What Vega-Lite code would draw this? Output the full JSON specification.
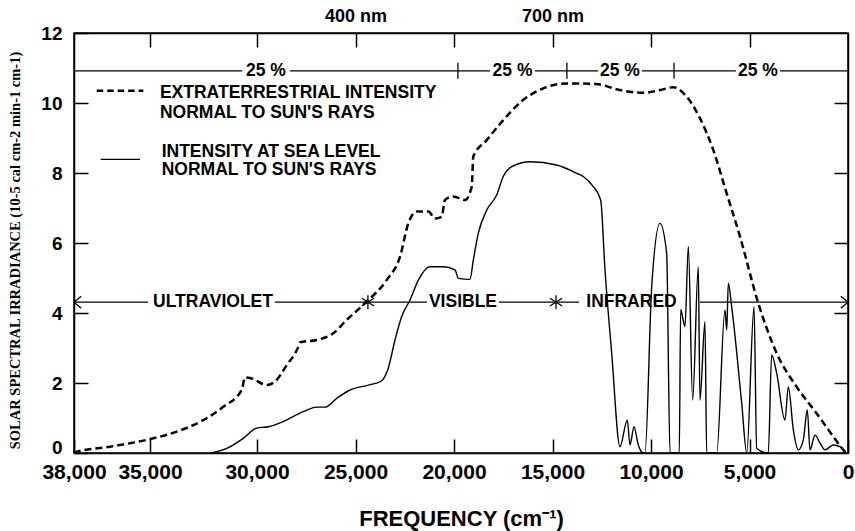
{
  "$schema": "https://vega.github.io/schema/vega-lite/v6.json",
  "width": 774,
  "height": 420,
  "autosize": "none",
  "padding": {"left": 74, "top": 33, "right": 7, "bottom": 78},
  "background": "white",
  "config": {
    "view": {"stroke": "black", "strokeWidth": 1.5},
    "axis": {
      "grid": false,
      "domainColor": "black",
      "domainWidth": 1.5,
      "tickColor": "black",
      "tickWidth": 1.5,
      "labelColor": "black",
      "titleColor": "black",
      "labelFont": "Liberation Sans",
      "titleFont": "Liberation Sans",
      "labelFontWeight": "bold",
      "titleFontWeight": "bold",
      "labelFlush": false,
      "labelOverlap": false
    },
    "text": {"font": "Liberation Sans", "fontWeight": "bold", "fontSize": 17.5, "color": "black"}
  },
  "resolve": {"axis": {"x": "independent", "y": "independent"}},
  "datasets": {
    "ext": [
      {"f": 38000, "v": 0.0}, {"f": 37960, "v": 0.02}, {"f": 36580, "v": 0.18}, {"f": 35040, "v": 0.39},
      {"f": 33750, "v": 0.61}, {"f": 32510, "v": 0.94}, {"f": 31575, "v": 1.32}, {"f": 30715, "v": 1.8},
      {"f": 30560, "v": 2.16}, {"f": 30250, "v": 2.13}, {"f": 29510, "v": 1.94}, {"f": 29090, "v": 2.04},
      {"f": 28490, "v": 2.51}, {"f": 27900, "v": 3.04}, {"f": 27820, "v": 3.16}, {"f": 26970, "v": 3.23},
      {"f": 26130, "v": 3.42}, {"f": 25450, "v": 3.8}, {"f": 24520, "v": 4.28}, {"f": 23420, "v": 4.94},
      {"f": 22740, "v": 5.61}, {"f": 22320, "v": 6.56}, {"f": 21890, "v": 6.9}, {"f": 21300, "v": 6.9},
      {"f": 20965, "v": 6.7}, {"f": 20625, "v": 6.75}, {"f": 20460, "v": 7.23}, {"f": 20040, "v": 7.33},
      {"f": 19440, "v": 7.23}, {"f": 19100, "v": 7.61}, {"f": 19020, "v": 8.47}, {"f": 18340, "v": 8.94},
      {"f": 17500, "v": 9.51}, {"f": 16480, "v": 10.09}, {"f": 15470, "v": 10.42}, {"f": 14280, "v": 10.56},
      {"f": 12760, "v": 10.54}, {"f": 11590, "v": 10.37}, {"f": 10390, "v": 10.29}, {"f": 9540, "v": 10.37},
      {"f": 8870, "v": 10.45}, {"f": 8190, "v": 10.18}, {"f": 7510, "v": 9.56}, {"f": 6840, "v": 8.66},
      {"f": 6160, "v": 7.42}, {"f": 5480, "v": 6.18}, {"f": 4570, "v": 4.31}, {"f": 3620, "v": 2.85},
      {"f": 2605, "v": 1.89}, {"f": 1590, "v": 1.13}, {"f": 748, "v": 0.47}, {"f": 240, "v": 0.09},
      {"f": 100, "v": 0.0}
    ],
    "sea": [
      {"f": 32120, "v": 0}, {"f": 31415, "v": 0.13}, {"f": 30640, "v": 0.42}, {"f": 30015, "v": 0.71},
      {"f": 29425, "v": 0.75}, {"f": 28665, "v": 0.9}, {"f": 27650, "v": 1.18}, {"f": 26970, "v": 1.31},
      {"f": 26550, "v": 1.31}, {"f": 25955, "v": 1.56}, {"f": 25280, "v": 1.8}, {"f": 24350, "v": 1.94},
      {"f": 23705, "v": 2.05}, {"f": 23350, "v": 2.4}, {"f": 22995, "v": 3.23}, {"f": 22655, "v": 3.9},
      {"f": 22235, "v": 4.37}, {"f": 21810, "v": 4.94}, {"f": 21220, "v": 5.32}, {"f": 20545, "v": 5.32},
      {"f": 19950, "v": 5.23}, {"f": 19780, "v": 4.99}, {"f": 19190, "v": 4.96}, {"f": 19020, "v": 5.51},
      {"f": 18765, "v": 6.28}, {"f": 18340, "v": 6.94}, {"f": 17835, "v": 7.37}, {"f": 17500, "v": 7.9},
      {"f": 17070, "v": 8.18}, {"f": 16140, "v": 8.32}, {"f": 14790, "v": 8.23}, {"f": 13770, "v": 7.99},
      {"f": 13440, "v": 7.9}, {"f": 12930, "v": 7.61}, {"f": 12555, "v": 7.23}, {"f": 12335, "v": 5.23},
      {"f": 11995, "v": 2.85}, {"f": 11575, "v": 0.18}, {"f": 11205, "v": 0.94}, {"f": 11065, "v": 0.23},
      {"f": 10865, "v": 0.75}, {"f": 10645, "v": 0.23}, {"f": 10390, "v": 0}, {"f": 10305, "v": 0},
      {"f": 9965, "v": 4.75}, {"f": 9545, "v": 6.56}, {"f": 9205, "v": 5.7}, {"f": 9035, "v": 0},
      {"f": 8565, "v": 0}, {"f": 8495, "v": 4.1}, {"f": 8275, "v": 3.61}, {"f": 8105, "v": 5.9},
      {"f": 7885, "v": 1.51}, {"f": 7600, "v": 5.32}, {"f": 7515, "v": 1.51}, {"f": 7260, "v": 3.75},
      {"f": 7175, "v": 0}, {"f": 6665, "v": 0}, {"f": 6245, "v": 4.09}, {"f": 6155, "v": 3.51},
      {"f": 6075, "v": 4.85}, {"f": 5905, "v": 4.18}, {"f": 5395, "v": 1.42}, {"f": 5140, "v": 0},
      {"f": 4770, "v": 4.18}, {"f": 4635, "v": 0.13}, {"f": 4045, "v": 0}, {"f": 3875, "v": 2.8},
      {"f": 3620, "v": 2.28}, {"f": 3200, "v": 0.94}, {"f": 3030, "v": 1.89}, {"f": 2775, "v": 0.66},
      {"f": 2525, "v": 0.09}, {"f": 2270, "v": 0.37}, {"f": 2065, "v": 1.23}, {"f": 1930, "v": 0.09},
      {"f": 1675, "v": 0.51}, {"f": 1420, "v": 0.28}, {"f": 1170, "v": 0.09}, {"f": 745, "v": 0.23},
      {"f": 405, "v": 0.18}, {"f": 150, "v": 0}
    ],
    "pctSegs": [
      {"f": 38000, "f2": 30700, "v": 10.92}, {"f": 28330, "f2": 18170, "v": 10.92},
      {"f": 15890, "f2": 12690, "v": 10.92}, {"f": 10460, "f2": 5690, "v": 10.92},
      {"f": 3450, "f2": 0, "v": 10.92}
    ],
    "pctTicks": [
      {"f": 19800, "v": 10.69, "v2": 11.15}, {"f": 14270, "v": 10.69, "v2": 11.15}, {"f": 8830, "v": 10.69, "v2": 11.15}
    ],
    "pctLabels": [
      {"f": 29545, "v": 10.92, "t": "25 %"}, {"f": 17030, "v": 10.92, "t": "25 %"},
      {"f": 11575, "v": 10.92, "t": "25 %"}, {"f": 4570, "v": 10.92, "t": "25 %"}
    ],
    "regSegs": [
      {"f": 38000, "f2": 35080, "v": 4.31}, {"f": 29090, "f2": 21370, "v": 4.31},
      {"f": 17715, "f2": 13655, "v": 4.31}, {"f": 7515, "f2": 0, "v": 4.31}
    ],
    "regLabels": [
      {"f": 32055, "v": 4.31, "t": "ULTRAVIOLET"}, {"f": 19545, "v": 4.31, "t": "VISIBLE"},
      {"f": 10990, "v": 4.31, "t": "INFRARED"}
    ],
    "stars": [{"f": 24370, "v": 4.31}, {"f": 14820, "v": 4.31}],
    "arrowL": [{"f": 38000, "v": 4.31}],
    "arrowR": [{"f": 0, "v": 4.31}],
    "legDash": [{"f": 37105, "f2": 35265, "v": 10.35}],
    "legSolid": [{"f": 36945, "f2": 35395, "v": 8.39}],
    "legText": [
      {"f": 34535, "v": 10.28, "t": "EXTRATERRESTRIAL INTENSITY"},
      {"f": 34535, "v": 9.71, "t": "NORMAL TO SUN'S RAYS"},
      {"f": 34455, "v": 8.61, "t": "INTENSITY AT SEA LEVEL"},
      {"f": 34455, "v": 8.09, "t": "NORMAL TO SUN'S RAYS"}
    ]
  },
  "encoding": {
    "x": {"field": "f", "type": "quantitative", "axis": null,
          "scale": {"domain": [38000, 35000, 30000, 0], "range": [0, 76, 183, 774], "nice": false, "zero": false}},
    "y": {"field": "v", "type": "quantitative", "axis": null,
          "scale": {"domain": [0, 12], "nice": false, "zero": false}}
  },
  "layer": [
    {
      "data": {"name": "ext"},
      "mark": {"type": "line", "color": "black", "strokeWidth": 2.5, "strokeDash": [7, 4], "interpolate": "monotone"},
      "encoding": {
        "x": {"field": "f", "type": "quantitative",
              "scale": {"domain": [38000, 35000, 30000, 0], "range": [0, 76, 183, 774], "nice": false, "zero": false},
              "axis": {"orient": "bottom", "values": [38000, 35000, 30000, 25000, 20000, 15000, 10000, 5000, 0],
                       "labelExpr": "format(datum.value, ',')", "tickSize": -14, "labelPadding": 22, "labelFontSize": 21,
                       "title": "FREQUENCY (cm⁻¹)", "titleFontSize": 22, "titlePadding": 26}},
        "y": {"field": "v", "type": "quantitative",
              "scale": {"domain": [0, 12], "nice": false, "zero": false},
              "axis": {"orient": "left", "values": [0, 2, 4, 6, 8, 10, 12], "tickSize": -14, "labelPadding": 26,
                       "labelFontSize": 19,
                       "labelBaseline": {"condition": {"test": "datum.value == 0", "value": "alphabetic"}, "value": "middle"},
                       "title": "SOLAR SPECTRAL IRRADIANCE (10-5 cal cm-2 min-1 cm-1)",
                       "titleFont": "Liberation Serif", "titleFontSize": 14.5, "titleAngle": -90,
                       "titleX": -59, "titleY": 217, "titleAlign": "center", "titleBaseline": "middle"}},
        "order": {"field": "f", "sort": "descending"}
      }
    },
    {
      "data": {"name": "sea"},
      "mark": {"type": "line", "color": "black", "strokeWidth": 1.4, "interpolate": "monotone"},
      "encoding": {
        "x": {"field": "f", "type": "quantitative",
              "scale": {"domain": [38000, 35000, 30000, 0], "range": [0, 76, 183, 774], "nice": false, "zero": false},
              "axis": {"orient": "top", "values": [35000, 30000, 25000, 20000, 15000, 10000, 5000],
                       "tickSize": -14, "labelPadding": 22, "labelFontSize": 18,
                       "labelExpr": "datum.value == 25000 ? '400 nm' : datum.value == 15000 ? '700 nm' : ''",
                       "title": null}},
        "y": {"field": "v", "type": "quantitative",
              "scale": {"domain": [0, 12], "nice": false, "zero": false},
              "axis": {"orient": "right", "values": [2, 4, 6, 8, 10], "tickSize": -14, "labels": false, "title": null}},
        "order": {"field": "f", "sort": "descending"}
      }
    },
    {
      "data": {"name": "pctSegs"},
      "mark": {"type": "rule", "color": "black", "strokeWidth": 1.3},
      "encoding": {"x2": {"field": "f2"}}
    },
    {
      "data": {"name": "pctTicks"},
      "mark": {"type": "rule", "color": "black", "strokeWidth": 1.3},
      "encoding": {"y2": {"field": "v2"}}
    },
    {
      "data": {"name": "pctLabels"},
      "mark": {"type": "text", "align": "center", "baseline": "middle"},
      "encoding": {"text": {"field": "t"}}
    },
    {
      "data": {"name": "regSegs"},
      "mark": {"type": "rule", "color": "black", "strokeWidth": 1.3},
      "encoding": {"x2": {"field": "f2"}}
    },
    {
      "data": {"name": "regLabels"},
      "mark": {"type": "text", "align": "center", "baseline": "middle"},
      "encoding": {"text": {"field": "t"}}
    },
    {
      "data": {"name": "stars"},
      "mark": {"type": "point", "shape": "M0,-1L0,1M-0.87,-0.55L0.87,0.55M-0.87,0.55L0.87,-0.55",
               "size": 196, "filled": false, "color": "black", "strokeWidth": 1.3, "opacity": 1}
    },
    {
      "data": {"name": "arrowL"},
      "mark": {"type": "point", "shape": "M1.2,-1L0,0L1.2,1", "size": 144, "filled": false, "color": "black", "strokeWidth": 1.3, "opacity": 1}
    },
    {
      "data": {"name": "arrowR"},
      "mark": {"type": "point", "shape": "M-1.2,-1L0,0L-1.2,1", "size": 144, "filled": false, "color": "black", "strokeWidth": 1.3, "opacity": 1}
    },
    {
      "data": {"name": "legDash"},
      "mark": {"type": "rule", "color": "black", "strokeWidth": 2.5, "strokeDash": [6.5, 4]},
      "encoding": {"x2": {"field": "f2"}}
    },
    {
      "data": {"name": "legSolid"},
      "mark": {"type": "rule", "color": "black", "strokeWidth": 1.4},
      "encoding": {"x2": {"field": "f2"}}
    },
    {
      "data": {"name": "legText"},
      "mark": {"type": "text", "align": "left", "baseline": "middle"},
      "encoding": {"text": {"field": "t"}}
    }
  ]
}
